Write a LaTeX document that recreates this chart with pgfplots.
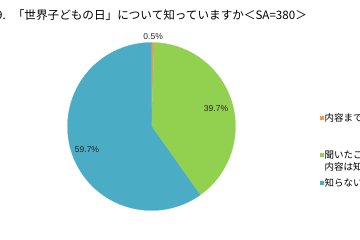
\documentclass[border=0pt]{standalone}
\usepackage{pgfplots}
\pgfplotsset{compat=1.18}
\usepackage{fontspec}
\setmainfont{Liberation Sans}
\newfontfamily\jp{Noto Sans CJK JP}
\definecolor{cOrange}{HTML}{F79646}
\definecolor{cGreen}{HTML}{92D050}
\definecolor{cBlue}{HTML}{4BACC6}
\begin{document}
\begin{tikzpicture}
\path[use as bounding box] (0,0) rectangle (360bp,-240bp);
\clip (0,0) rectangle (360bp,-240bp);
\fill[white] (0,0) rectangle (360bp,-240bp);
% title
\node[anchor=base west, inner sep=0pt, font=\jp\fontsize{11.6bp}{13bp}\selectfont] at (12.7bp,-19.8bp) {「世界子どもの日」について知っていますか＜SA=380＞};
\node[anchor=base east, inner sep=0pt, font=\jp\fontsize{11.6bp}{13bp}\selectfont] at (6bp,-19.8bp) {Q9.};
\begin{axis}[hide axis, x=84bp, y=84bp, xmin=-1.3, xmax=1.3, ymin=-1.3, ymax=1.3,
  anchor=center, at={(151.5bp,-126.5bp)}, clip=false]
% shares in percent: 0.5, 39.7, 59.7 ; clockwise from 90 deg
\addplot[draw=cOrange, fill=cOrange, line width=0.2pt, data cs=polar] coordinates {(0,0) (90,1)} arc[start angle=90, end angle=88.2, radius=84bp] -- cycle;
\addplot[draw=cGreen, fill=cGreen, line width=0.2pt, data cs=polar] coordinates {(0,0) (88.2,1)} arc[start angle=88.2, end angle=-54.72, radius=84bp] -- cycle;
\addplot[draw=cBlue, fill=cBlue, line width=0.2pt, data cs=polar] coordinates {(0,0) (-54.72,1)} arc[start angle=-54.72, end angle=-270, radius=84bp] -- cycle;
\node[font=\fontsize{8.5bp}{9bp}\selectfont, text=black!85] at (axis cs:0.02,1.07) {0.5\%};
\node[font=\fontsize{8.5bp}{9bp}\selectfont, text=black!85] at (axis cs:0.768,0.208) {39.7\%};
\node[font=\fontsize{8.5bp}{9bp}\selectfont, text=black!85] at (axis cs:-0.768,-0.28) {59.7\%};
\end{axis}
% legend
\fill[cOrange] (319.5bp,-116bp) rectangle (323.5bp,-120bp);
\node[anchor=west, inner sep=0pt, font=\jp\fontsize{9.5bp}{12bp}\selectfont] at (324.5bp,-118bp) {内容まで知っている};
\fill[cGreen] (319.5bp,-153bp) rectangle (323.5bp,-157bp);
\node[anchor=west, inner sep=0pt, font=\jp\fontsize{9.5bp}{12bp}\selectfont] at (324.5bp,-155bp) {聞いたことはあるが};
\node[anchor=west, inner sep=0pt, font=\jp\fontsize{9.5bp}{12bp}\selectfont] at (324.5bp,-167bp) {内容は知らない};
\fill[cBlue] (319.5bp,-181bp) rectangle (323.5bp,-185bp);
\node[anchor=west, inner sep=0pt, font=\jp\fontsize{9.5bp}{12bp}\selectfont] at (324.5bp,-183bp) {知らない};
\end{tikzpicture}
\end{document}
